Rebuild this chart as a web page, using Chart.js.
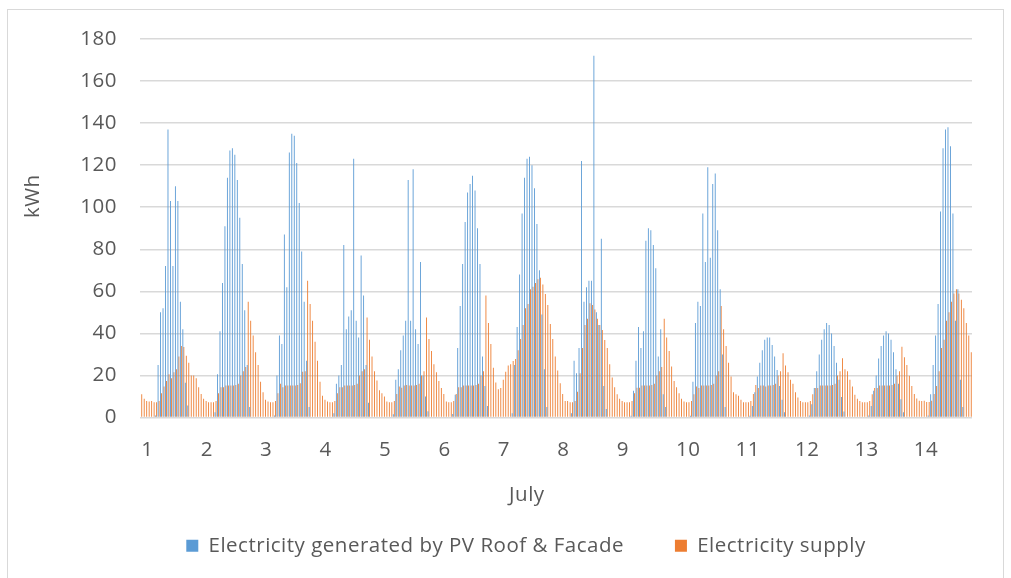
<!DOCTYPE html>
<html>
<head>
<meta charset="utf-8">
<title>PV generation vs electricity supply, July</title>
<script src="https://cdn.jsdelivr.net/npm/chart.js@4.4.1/dist/chart.umd.min.js"></script>
<style>
    html, body { margin: 0; padding: 0; background: #fff; }
    #frame { position: absolute; left: 7px; top: 9px; width: 997px; height: 600px; border: 1px solid #d9d9d9; box-sizing: border-box; }
    #wrap { position: absolute; left: 0; top: 0; width: 1011px; height: 578px; }
</style>
</head>
<body>
<div id="frame"></div>
<div id="wrap"><canvas id="pvChart" width="1011" height="578"></canvas></div>
<script>
// Days of July shown on the x axis (one label per 24 hourly bars)
const dayLabels = ['1', '2', '3', '4', '5', '6', '7', '8', '9', '10', '11', '12', '13', '14'];

// Hourly electricity generated by PV roof & facade (kWh), one line per day
const pvRoofFacade = [
    0, 0, 0, 0, 0, 0, 1, 25, 50, 52, 72, 137, 103, 72, 110, 103, 55, 42, 16.5, 5.7, 0, 0, 0, 0,
    0, 0, 0, 0, 0, 0, 2.5, 20.6, 41, 64, 91, 114, 127, 128, 125, 113, 95, 73, 51, 25, 5, 0, 0, 0,
    0, 0, 0, 0, 0, 0, 1, 20, 39, 35, 87, 62, 126, 135, 134, 121, 102, 79, 55, 27, 5, 0, 0, 0,
    0, 0, 0, 0, 0, 0, 2, 16, 20, 25, 82, 42, 48, 51, 123, 46, 38, 77, 58, 25, 7, 0, 0, 0,
    0, 0, 0, 0, 0, 0, 1.6, 18, 23, 32, 39, 46, 113, 46, 118, 42, 35, 74, 20, 10, 3, 0, 0, 0,
    0, 0, 0, 0, 0, 0, 1.7, 10.8, 33, 53, 73, 93, 107, 111, 115, 108, 90, 73, 29, 15, 5.5, 0, 0, 0,
    0, 0, 0, 0, 0, 0, 2, 25, 43, 68, 97, 114, 123, 124, 120, 109, 92, 70, 49, 23, 5, 0, 0, 0,
    0, 0, 0, 0, 0, 0, 2, 27, 21, 33, 122, 55, 62, 65, 65, 172, 50, 44, 85, 15, 4, 0, 0, 0,
    0, 0, 0, 0, 0, 0, 0.8, 12.7, 27, 43, 33, 41, 84, 90, 89, 82, 71, 29, 42, 11, 5, 0, 0, 0,
    0, 0, 0, 0, 0, 0, 0.8, 17, 45, 55, 53, 97, 74, 119, 76, 111, 116, 89, 61, 30, 5, 0, 0, 0,
    0, 0, 0, 0, 0, 0, 0.8, 5.5, 12, 19.5, 26, 32, 37, 38, 38, 34.5, 29, 22.6, 15, 8.4, 2.5, 0, 0, 0,
    0, 0, 0, 0, 0, 0, 1, 6.3, 14, 22, 30, 37, 42, 45, 44, 40, 34, 26, 18, 9.7, 2.8, 0, 0, 0,
    0, 0, 0, 0, 0, 0, 1, 5.5, 12.7, 20, 28, 34, 39, 41, 40, 37, 31, 23, 16, 8.7, 2.5, 0, 0, 0,
    0, 0, 0, 0, 0, 0, 1, 11, 25, 39, 54, 98, 128, 137, 138, 129, 97, 46, 61, 18, 5, 0, 0, 0
];

// Hourly electricity supply (kWh), one line per day
const electricitySupply = [
    11, 8.9, 7.9, 7.6, 7.9, 7.3, 7.3, 7.9, 11.5, 14.7, 17.4, 20.6, 18.7, 21.5, 23, 29, 34, 33.5, 29.4, 26, 20, 20, 18.7, 14.4,
    11.2, 8.9, 7.9, 7.3, 7.3, 7.3, 7.9, 11.5, 14.4, 14.4, 15.2, 15.2, 15.2, 15.2, 15.5, 16, 20, 22, 24, 55, 46, 39, 31, 25,
    17, 12, 8.4, 7.6, 7.3, 7.3, 7.9, 11.5, 16, 14.4, 15.2, 15.2, 15.2, 15.2, 15.2, 15.5, 16.3, 21.8, 22, 65, 54, 46, 36, 27,
    17, 10.4, 8.4, 7.6, 7.3, 7.3, 7.9, 11.5, 14.4, 14.4, 15.2, 15.2, 15.2, 15.2, 15.5, 16, 20, 22, 23, 47.5, 37, 29, 22, 17.6,
    13, 11.5, 10, 7.6, 7.3, 7.3, 7.9, 11.2, 14.7, 14.2, 15.2, 15.5, 15.2, 15.2, 15.2, 15.5, 16, 20, 22, 47.5, 37.3, 31.6, 25.3, 21.5,
    17.4, 14, 11.2, 7.6, 7.3, 7.3, 7.9, 11.2, 14.4, 14.4, 15.2, 15.2, 15.2, 15.2, 15.2, 15.5, 16, 20, 22, 58, 45, 35, 23.7, 16.6,
    13.4, 14, 17.9, 21.8, 24.7, 25.3, 26.9, 27.8, 32, 37.3, 44, 51.9, 54, 61, 62.2, 64, 65.8, 66.5, 63.3, 58.7, 53.5, 44.5, 37.3, 29,
    22.3, 16.3, 11.2, 7.9, 7.9, 7.3, 7.3, 7.9, 12.3, 21, 33, 44, 47, 54.3, 53.5, 51.4, 47, 44, 41.6, 36.9, 33, 25.3, 19, 14.4,
    11, 8.9, 7.9, 7.3, 7.3, 7.3, 7.9, 11.5, 14.2, 14.2, 15.2, 15.2, 15.2, 15.2, 15.5, 16, 20, 22, 24, 47, 38, 31.6, 24.2, 17.4,
    14.4, 11.5, 8.9, 7.6, 7.3, 7.3, 7.9, 11, 14.7, 14, 15.2, 15.2, 15.2, 15.2, 15.5, 16, 20, 22, 53, 42, 34, 26, 19.5, 12,
    11, 10.4, 8.4, 7.3, 7.3, 7.3, 7.9, 11.2, 15.5, 14, 15.2, 15.2, 14.7, 15.2, 15.2, 15.5, 16, 20, 22, 30.5, 24.7, 21.5, 17.9, 16,
    12, 9.5, 7.9, 7.3, 7.3, 7.3, 7.9, 11, 14, 14, 15.2, 15.2, 15.2, 15.2, 15.2, 15.5, 16, 20, 22, 28.2, 23, 22, 17.9, 14.7,
    10.8, 8.9, 7.9, 7.3, 7.3, 7.3, 7.9, 11, 14, 14, 15.2, 15.2, 15.2, 15.2, 15.2, 15.5, 16, 20, 22, 33.7, 28.6, 25, 19.8, 15,
    11.2, 9, 8, 7.8, 8, 7.4, 7.4, 8, 11.2, 15, 22, 33, 37, 46, 50, 55, 59, 61, 59, 56, 52, 45, 39, 31
];

const yTicks = { min: 0, max: 180, step: 20 };

// One category per hour, label only on the first hour of each day
const hourLabels = [];
dayLabels.forEach(day => {
    for (let h = 0; h < 24; h++) {
        hourLabels.push(h === 0 ? day : '');
    }
});

const textColor = '#595959';
const gridColor = '#d9d9d9';
const font = { family: "'Open Sans', sans-serif", size: 20.5 };

// Excel's text runs a little wider than Open Sans, so add some letter spacing
const wideText = {
    id: 'wideText',
    beforeUpdate(chart) { chart.ctx.letterSpacing = '0.5px'; },
    beforeDraw(chart) { chart.ctx.letterSpacing = '0.5px'; }
};

// Nudge the legend to the right so it sits where Excel put it
const legendShift = {
    id: 'legendShift',
    afterLayout(chart) {
        chart.legend.left += 33;
        chart.legend.right += 33;
    }
};

const ctx = document.getElementById('pvChart').getContext('2d');
new Chart(ctx, {
    type: 'bar',
    data: {
        labels: hourLabels,
        datasets: [
            {
                label: 'Electricity generated by PV Roof & Facade',
                data: pvRoofFacade,
                backgroundColor: '#5B9BD5',
                categoryPercentage: 0.8,
                barPercentage: 0.9
            },
            {
                label: 'Electricity supply',
                data: electricitySupply,
                backgroundColor: '#ED7D31',
                categoryPercentage: 0.8,
                barPercentage: 0.9
            }
        ]
    },
    options: {
        responsive: false,
        animation: false,
        layout: { padding: { left: 14, right: 39, top: 39, bottom: 12 } },
        plugins: {
            legend: {
                position: 'bottom',
                labels: {
                    font: font,
                    color: textColor,
                    boxWidth: 12,
                    boxHeight: 12,
                    padding: 51
                }
            },
            tooltip: { enabled: false }
        },
        scales: {
            x: {
                grid: { display: false, drawTicks: false },
                border: { display: false },
                ticks: {
                    autoSkip: false,
                    maxRotation: 0,
                    minRotation: 0,
                    align: 'start',
                    padding: 20,
                    font: font,
                    color: textColor
                },
                title: {
                    display: true,
                    text: 'July' + '\u00a0'.repeat(10),
                    font: font,
                    color: textColor,
                    padding: { top: 0, bottom: -23 }
                },
                afterFit: scale => { scale.height = 67; }
            },
            y: {
                min: yTicks.min,
                max: yTicks.max,
                grid: { color: gridColor, lineWidth: 1.5, drawTicks: false },
                border: { display: false },
                ticks: {
                    stepSize: yTicks.step,
                    padding: 23,
                    font: font,
                    color: textColor
                },
                title: {
                    display: true,
                    text: '\u00a0'.repeat(11) + 'kWh',
                    font: font,
                    color: textColor,
                    padding: { top: 7, bottom: 0 }
                },
                afterFit: scale => { scale.width = 126; }
            }
        }
    },
    plugins: [wideText, legendShift]
});
</script>
</body>
</html>
